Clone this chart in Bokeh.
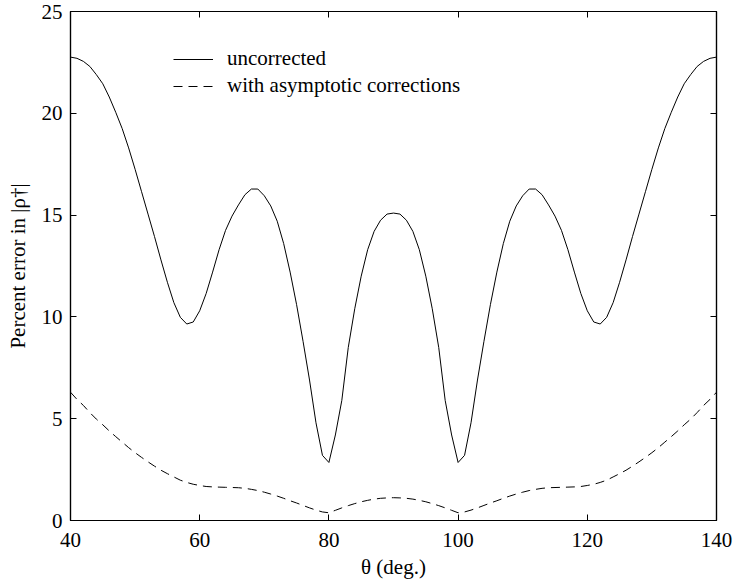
from bokeh.plotting import figure
from bokeh.models import (LinearAxis, FixedTicker, Range1d, Legend, LegendItem,
                          CustomLabelingPolicy)
from bokeh.embed import file_html
from bokeh.resources import INLINE

# Scattering angle grid (degrees)
theta = list(range(40, 141))

# Percent error in |rho^dagger|, uncorrected approximation
uncorrected = [
    22.76, 22.7, 22.55, 22.3, 21.9, 21.45, 20.8, 20.05, 19.25, 18.3,
    17.25, 16.15, 15.05, 13.95, 12.8, 11.7, 10.7, 9.98, 9.65, 9.75,
    10.3, 11.15, 12.2, 13.3, 14.25, 14.95, 15.5, 16.0, 16.28, 16.28,
    15.95, 15.45, 14.7, 13.6, 12.2, 10.6, 8.8, 6.9, 4.8, 3.2,
    2.85, 4.2, 5.9, 8.5, 10.4, 12.0, 13.3, 14.2, 14.75, 15.05,
    15.1,
    15.05, 14.75, 14.2, 13.3, 12.0, 10.4, 8.5, 5.9, 4.2, 2.85,
    3.2, 4.8, 6.9, 8.8, 10.6, 12.2, 13.6, 14.7, 15.45, 15.95,
    16.28, 16.28, 16.0, 15.5, 14.95, 14.25, 13.3, 12.2, 11.15, 10.3,
    9.75, 9.65, 9.98, 10.7, 11.7, 12.8, 13.95, 15.05, 16.15, 17.25,
    18.3, 19.25, 20.05, 20.8, 21.45, 21.9, 22.3, 22.55, 22.7, 22.76,
]

# Percent error after applying the asymptotic corrections
corrected = [
    6.3, 5.95, 5.65, 5.3, 4.98, 4.7, 4.4, 4.12, 3.85, 3.58,
    3.33, 3.1, 2.88, 2.67, 2.47, 2.3, 2.14, 1.98, 1.87, 1.78,
    1.72, 1.67, 1.65, 1.64, 1.63, 1.62, 1.61, 1.58, 1.53, 1.47,
    1.39, 1.3, 1.2, 1.09, 0.97, 0.86, 0.74, 0.62, 0.51, 0.42,
    0.38, 0.5, 0.62, 0.73, 0.83, 0.92, 0.99, 1.05, 1.09, 1.11,
    1.12,
    1.11, 1.09, 1.05, 0.99, 0.92, 0.83, 0.73, 0.62, 0.5, 0.38,
    0.42, 0.51, 0.62, 0.74, 0.86, 0.97, 1.09, 1.2, 1.3, 1.39,
    1.47, 1.53, 1.58, 1.61, 1.62, 1.63, 1.64, 1.65, 1.67, 1.72,
    1.78, 1.87, 1.98, 2.14, 2.3, 2.47, 2.67, 2.88, 3.1, 3.33,
    3.58, 3.85, 4.12, 4.4, 4.7, 4.98, 5.3, 5.65, 5.95, 6.3,
]

x_ticks = [40, 60, 80, 100, 120, 140]
y_ticks = [0, 5, 10, 15, 20, 25]
series_labels = ["uncorrected", "with asymptotic corrections"]

FONT = "Liberation Serif"
FSIZE = "21px"

p = figure(
    width=734, height=583,
    output_backend="svg", toolbar_location=None,
    x_range=Range1d(40, 140), y_range=Range1d(0, 25),
    min_border_left=70, min_border_right=18,
    min_border_top=11, min_border_bottom=63,
    background_fill_color="white", border_fill_color="white",
)
p.xgrid.visible = False
p.ygrid.visible = False
p.outline_line_color = "black"
p.outline_line_width = 1.2

# mirrored axes on top/right carry tick marks only
no_labels = CustomLabelingPolicy(code="""
    for (const i of Array.from(indices)) { indices.unset(i) }
    return indices
""")


def style_axis(ax, ticks, label_size):
    ax.ticker = FixedTicker(ticks=ticks)
    ax.axis_line_color = "black"
    ax.axis_line_width = 1.2
    ax.major_tick_in = 6
    ax.major_tick_out = 0
    ax.major_tick_line_color = "black"
    ax.major_tick_line_width = 1
    ax.minor_tick_line_color = None
    ax.major_label_text_font = FONT
    ax.major_label_text_font_size = label_size
    ax.major_label_text_color = "black"
    ax.axis_label_text_font = FONT
    ax.axis_label_text_font_size = FSIZE
    ax.axis_label_text_font_style = "normal"
    ax.axis_label_text_color = "black"


xa = p.xaxis[0]
ya = p.yaxis[0]
style_axis(xa, x_ticks, FSIZE)
style_axis(ya, y_ticks, FSIZE)
xa.major_label_standoff = 12
ya.major_label_standoff = 8
xa.axis_label = "θ (deg.)"
ya.axis_label = "Percent error in |ρ†|"
xa.axis_label_standoff = 5
ya.axis_label_standoff = 9

top = LinearAxis()
right = LinearAxis()
style_axis(top, x_ticks, "0px")
style_axis(right, y_ticks, "0px")
top.major_label_standoff = 0
right.major_label_standoff = 0
top.major_label_policy = no_labels
right.major_label_policy = no_labels
p.add_layout(top, "above")
p.add_layout(right, "right")

r1 = p.line(theta, uncorrected, line_color="black", line_width=1)
r2 = p.line(theta, corrected, line_color="black", line_width=1,
            line_dash="9 6")

legend = Legend(
    items=[LegendItem(label=series_labels[0], renderers=[r1]),
           LegendItem(label=series_labels[1], renderers=[r2])],
    location=(103, 422),
    padding=0, margin=0, spacing=2,
    glyph_width=40, glyph_height=20, label_height=20,
    label_standoff=14,
    label_text_font=FONT, label_text_font_size=FSIZE,
    label_text_color="black",
    border_line_color=None, background_fill_alpha=0,
)
p.add_layout(legend)

open("out.html", "w").write(file_html(p, INLINE))
